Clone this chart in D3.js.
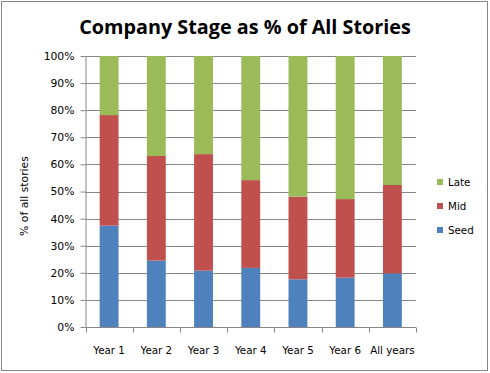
<!DOCTYPE html>
<html><head><meta charset="utf-8">
<script src="https://cdn.jsdelivr.net/npm/d3@7"></script>
<style>body{margin:0;background:#fff}svg{display:block}</style>
</head><body>
<svg id="c" width="490" height="373"></svg>
<script>
const categories = ["Year 1","Year 2","Year 3","Year 4","Year 5","Year 6","All years"];
const seed = [37.4, 24.5, 20.8, 21.8, 17.6, 18.2, 19.8];
const mid  = [40.8, 38.6, 43.0, 32.4, 30.5, 29.0, 32.6];
const late = [21.8, 36.9, 36.2, 45.8, 51.9, 52.8, 47.6];
const seriesNames = ["Seed","Mid","Late"];
const colors = ["#4F81BD","#C0504D","#9BBB59"];
const yTicks = [0,10,20,30,40,50,60,70,80,90,100];

const svg = d3.select("#c");
svg.append("rect").attr("x",1.5).attr("y",1.5).attr("width",486).attr("height",369)
  .attr("fill","#fff").attr("stroke","#868686").attr("stroke-width",1);

const L=85.5, R=416, T=56, B=327;
const x = d3.scaleBand().domain(categories).range([L,R]).paddingInner(0.6).paddingOuter(0.3);
const xb = d3.scaleBand().domain(categories).range([L,R]);
const y = d3.scaleLinear().domain([0,100]).range([B,T]);

// gridlines
svg.append("g").selectAll("line").data(yTicks).join("line")
  .attr("x1",L).attr("x2",R).attr("y1",d=>Math.round(y(d))+0.5).attr("y2",d=>Math.round(y(d))+0.5)
  .attr("stroke","#868686").attr("stroke-width",1);

const table = categories.map((c,i)=>({cat:c, Seed:seed[i], Mid:mid[i], Late:late[i]}));
const stack = d3.stack().keys(seriesNames)(table);
svg.append("g").selectAll("g").data(stack).join("g").attr("fill",(d,i)=>colors[i])
  .selectAll("rect").data(d=>d).join("rect")
  .attr("x",d=>x(d.data.cat)).attr("width",x.bandwidth())
  .attr("y",d=>y(d[1])).attr("height",d=>y(d[0])-y(d[1]));

// y axis
const ya = svg.append("g").attr("transform",`translate(${L},0)`)
  .call(d3.axisLeft(y).tickValues(yTicks).tickFormat(d=>d+"%").tickSize(5).tickPadding(6));
ya.select(".domain").attr("stroke","#868686").attr("d",`M0.5,${T}V${B}`);
ya.selectAll(".tick line").attr("stroke","#868686");
ya.selectAll("text").attr("font-family","DejaVu Sans, Verdana, sans-serif").attr("font-size","10.8px").attr("fill","#000");

// x axis
const xa = svg.append("g").attr("transform",`translate(0,${B+0.5})`);
xa.append("line").attr("x1",L).attr("x2",R).attr("stroke","#868686");
xa.selectAll("line.t").data(categories.concat(["_end"])).join("line").attr("class","t")
  .attr("x1",(d,i)=>Math.round(L+i*xb.bandwidth())+0.5).attr("x2",(d,i)=>Math.round(L+i*xb.bandwidth())+0.5)
  .attr("y1",0).attr("y2",5).attr("stroke","#868686");
xa.selectAll("text").data(categories).join("text")
  .attr("x",d=>xb(d)+xb.bandwidth()/2).attr("y",26).attr("text-anchor","middle")
  .attr("font-family","DejaVu Sans, Verdana, sans-serif").attr("font-size","10.3px").text(d=>d);

// title
svg.append("text").attr("x",245).attr("y",34).attr("text-anchor","middle")
  .attr("font-family","Open Sans, Liberation Sans, sans-serif").attr("font-weight","bold")
  .attr("font-size","19.8px").text("Company Stage as % of All Stories");

// y title
svg.append("text").attr("transform","translate(28,196) rotate(-90)").attr("text-anchor","middle")
  .attr("font-family","DejaVu Sans, Verdana, sans-serif").attr("font-size","10.8px").text("% of all stories");

// legend
const leg = svg.append("g");
const order = [2,1,0];
order.forEach((si,k)=>{
  const yy = 182 + k*24;
  leg.append("rect").attr("x",437).attr("y",yy-3).attr("width",6).attr("height",6).attr("fill",colors[si]);
  leg.append("text").attr("x",448).attr("y",yy+4).attr("font-family","DejaVu Sans, Verdana, sans-serif")
    .attr("font-size","10.3px").text(seriesNames[si]);
});
</script>
</body></html>
